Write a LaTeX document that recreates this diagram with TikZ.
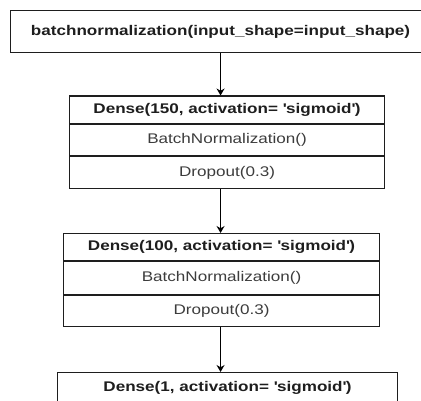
\documentclass[tikz,border=0pt]{standalone}
\usepackage{fontspec}
\setmainfont{Liberation Sans}[FakeStretch=1.22]
\usetikzlibrary{arrows.meta}

\definecolor{inkdark}{HTML}{1E1E1E}
\definecolor{inkgray}{HTML}{3C3C3C}
\newcommand{\sq}{\textquotesingle}

\begin{document}
\begin{tikzpicture}[x=1pt,y=-1pt,>={Stealth[length=7pt,width=8pt]},
    layer/.style={draw=inkdark,line width=1.1pt,inner sep=0pt,
      font=\fontsize{14}{16}\selectfont},
    head/.style={layer,text=inkdark,font=\fontsize{14}{16}\selectfont\bfseries},
    row/.style={layer,text=inkgray}]
  \useasboundingbox (0,0) rectangle (421,401);
  \clip (0,0) rectangle (421,401);

  % input
  \node[head,anchor=north west,minimum width=420pt,minimum height=42pt] (inp) at (10,10)
    {batchnormalization(input\_shape=input\_shape)};

  % first hidden block
  \node[head,anchor=north west,minimum width=315pt,minimum height=27.5pt] (d1) at (69,95.5)
    {Dense(150, activation= \sq sigmoid\sq)};
  \node[row,anchor=north,minimum width=315pt,minimum height=31pt] (bn1) at (d1.south)
    {BatchNormalization()};
  \node[row,anchor=north,minimum width=315pt,minimum height=32pt] (dr1) at (bn1.south)
    {Dropout(0.3)};

  % second hidden block
  \node[head,anchor=north west,minimum width=316pt,minimum height=27pt] (d2) at (63,233)
    {Dense(100, activation= \sq sigmoid\sq)};
  \node[row,anchor=north,minimum width=316pt,minimum height=33pt] (bn2) at (d2.south)
    {BatchNormalization()};
  \node[row,anchor=north,minimum width=316pt,minimum height=31pt] (dr2) at (bn2.south)
    {Dropout(0.3)};

  % output
  \node[head,anchor=north west,minimum width=340pt,minimum height=31pt,
        text depth=4pt] (out) at (57,372)
    {Dense(1, activation= \sq sigmoid\sq)};

  \draw[->,line width=1.1pt] (inp.south) -- (d1.north -| inp.south);
  \draw[->,line width=1.1pt] (dr1.south -| inp.south) -- (d2.north -| inp.south);
  \draw[->,line width=1.1pt] (dr2.south -| inp.south) -- (out.north -| inp.south);
\end{tikzpicture}
\end{document}
